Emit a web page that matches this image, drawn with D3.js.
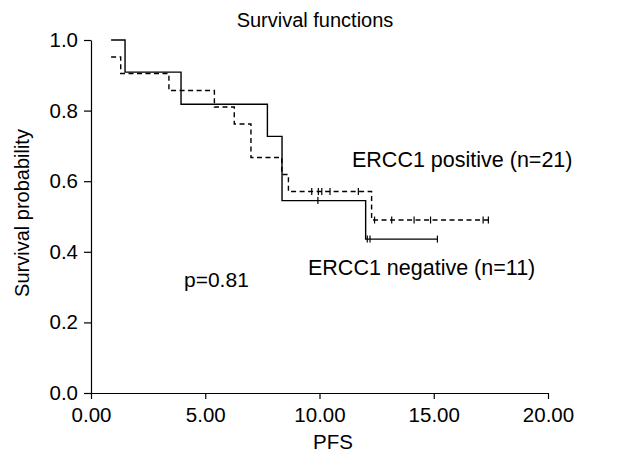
<!DOCTYPE html>
<html>
<head>
<meta charset="utf-8">
<script src="https://cdn.jsdelivr.net/npm/d3@7"></script>
<style>
  body { margin: 0; background: #fff; }
  svg { display: block; font-family: "Liberation Sans", Arial, sans-serif; }
  .axis path, .axis line { stroke: #000; stroke-width: 1.2; }
  .axis text { font-size: 20.5px; fill: #000; }
</style>
</head>
<body>
<svg id="chart"></svg>
<script>
// ERCC1 negative (n=11), solid line
const negTimes = [0.88, 1.49, 3.94, 7.72, 8.36, 12.02];
const negSurv = [1.0, 0.909, 0.818, 0.727, 0.545, 0.436];
const negEnd = 15.16;
const negCensor = [9.93, 12.09, 12.21, 15.16];

// ERCC1 positive (n=21), dashed line
const posTimes = [0.88, 1.30, 3.41, 5.40, 6.27, 7.00, 8.35, 8.64, 12.28];
const posSurv = [0.952, 0.905, 0.857, 0.810, 0.762, 0.667, 0.619, 0.571, 0.490];
const posEnd = 17.39;
const posCensor = [9.66, 9.95, 10.10, 10.46, 11.70, 12.41, 13.16, 14.14, 14.86, 17.16, 17.39];

const xTicks = [0, 5, 10, 15, 20];
const yTicks = [0, 0.2, 0.4, 0.6, 0.8, 1.0];

const w = 630, h = 458;
const svg = d3.select('#chart').attr('width', w).attr('height', h);

const xScale = d3.scaleLinear().domain([0, 20]).range([91, 548]);
const yScale = d3.scaleLinear().domain([0, 1]).range([393, 40]);

// axes
svg.append('g')
  .attr('class', 'axis')
  .attr('transform', `translate(0, ${yScale(0)})`)
  .call(d3.axisBottom(xScale).tickValues(xTicks).tickFormat(d3.format('.2f'))
    .tickSize(6).tickSizeOuter(0).tickPadding(8));

svg.append('g')
  .attr('class', 'axis')
  .attr('transform', `translate(${xScale(0)}, 0)`)
  .call(d3.axisLeft(yScale).tickValues(yTicks).tickFormat(d3.format('.1f'))
    .tickSize(7).tickSizeOuter(0).tickPadding(6));

svg.selectAll('.axis text').attr('font-family', null);

// step curves
let stepLine = d3.line()
  .x((d) => xScale(d[0]))
  .y((d) => yScale(d[1]))
  .curve(d3.curveStepAfter);

function stepPoints(times, surv, end) {
  let pts = times.map((t, i) => [t, surv[i]]);
  pts.push([end, surv[surv.length - 1]]);
  return pts;
}

function survAt(times, surv, t) {
  let i = d3.bisectRight(times, t) - 1;
  return surv[Math.max(i, 0)];
}

const groups = [
  { times: negTimes, surv: negSurv, end: negEnd, censor: negCensor, dash: null },
  { times: posTimes, surv: posSurv, end: posEnd, censor: posCensor, dash: '5,3.5' }
];

groups.forEach((g) => {
  svg.append('path')
    .attr('d', stepLine(stepPoints(g.times, g.surv, g.end)))
    .attr('fill', 'none')
    .attr('stroke', '#000')
    .attr('stroke-width', 1.4)
    .attr('stroke-dasharray', g.dash);

  svg.selectAll(null)
    .data(g.censor)
    .enter()
    .append('line')
    .attr('x1', (d) => xScale(d))
    .attr('x2', (d) => xScale(d))
    .attr('y1', (d) => yScale(survAt(g.times, g.surv, d)) - 3.5)
    .attr('y2', (d) => yScale(survAt(g.times, g.surv, d)) + 3.5)
    .attr('stroke', '#000')
    .attr('stroke-width', 1.2);
});

// texts
svg.append('text')
  .attr('x', 315).attr('y', 27)
  .attr('text-anchor', 'middle')
  .attr('font-size', 20)
  .text('Survival functions');

svg.append('text')
  .attr('x', 333).attr('y', 449)
  .attr('text-anchor', 'middle')
  .attr('font-size', 20.5)
  .text('PFS');

svg.append('text')
  .attr('transform', 'translate(29, 213) rotate(-90)')
  .attr('text-anchor', 'middle')
  .attr('font-size', 20)
  .text('Survival probability');

svg.append('text')
  .attr('x', 352).attr('y', 167)
  .attr('font-size', 21.5)
  .text('ERCC1 positive (n=21)');

svg.append('text')
  .attr('x', 308).attr('y', 275)
  .attr('font-size', 21.5)
  .text('ERCC1 negative (n=11)');

svg.append('text')
  .attr('x', 184).attr('y', 287)
  .attr('font-size', 21)
  .text('p=0.81');
</script>
</body>
</html>
